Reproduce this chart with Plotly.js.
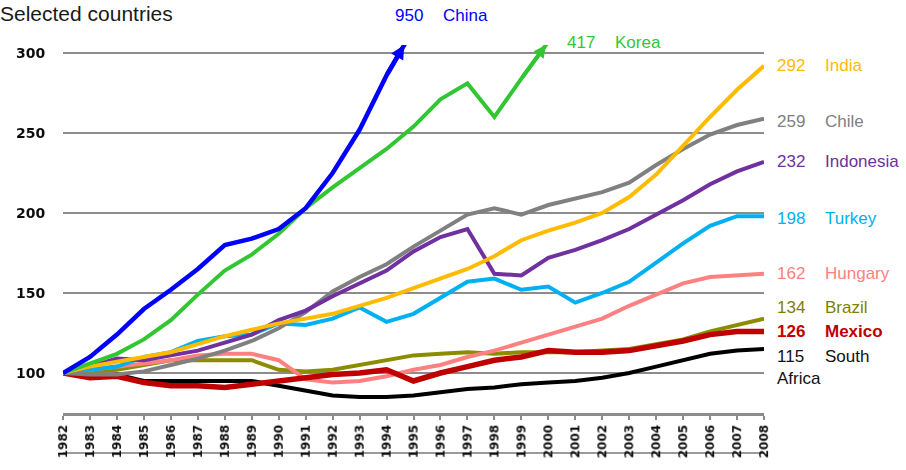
<!DOCTYPE html>
<html>
<head>
<meta charset="utf-8">
<script src="https://cdn.plot.ly/plotly-3.0.1.min.js"></script>
<style>
  html, body { margin: 0; padding: 0; background: #ffffff; }
  #chart { width: 906px; height: 470px; }
</style>
</head>
<body>
<div id="chart"></div>
<script>
// Index of real output, 1982 = 100
const years = [1982, 1983, 1984, 1985, 1986, 1987, 1988, 1989, 1990, 1991, 1992, 1993, 1994,
               1995, 1996, 1997, 1998, 1999, 2000, 2001, 2002, 2003, 2004, 2005, 2006, 2007, 2008];
const yTicks = [100, 150, 200, 250, 300];

const china       = [100, 110, 124, 140, 152, 165, 180, 184, 190, 203, 225, 252, 286, 315,
                     null, null, null, null, null, null, null, null, null, null, null, null, 950];
const korea       = [100, 106, 112, 121, 133, 149, 164, 174, 187, 203, 216, 228, 240, 254, 271, 281, 260, 284, 307,
                     null, null, null, null, null, null, null, 417];
const india       = [100, 104, 107, 110, 113, 118, 123, 127, 131, 134, 137, 142, 147, 153, 159, 165, 173, 183, 189, 194, 200, 210, 224, 242, 260, 277, 292];
const chile       = [100, 99, 99, 101, 105, 109, 114, 120, 128, 138, 151, 160, 168, 179, 189, 199, 203, 199, 205, 209, 213, 219, 230, 240, 249, 255, 259];
const indonesia   = [100, 104, 109, 108, 111, 114, 119, 124, 133, 139, 148, 156, 164, 176, 185, 190, 162, 161, 172, 177, 183, 190, 199, 208, 218, 226, 232];
const turkey      = [100, 102, 104, 110, 113, 120, 123, 124, 131, 130, 134, 141, 132, 137, 147, 157, 159, 152, 154, 144, 150, 157, 169, 181, 192, 198, 198];
const hungary     = [100, 102, 104, 106, 108, 111, 112, 112, 108, 96, 94, 95, 98, 102, 105, 110, 114, 119, 124, 129, 134, 142, 149, 156, 160, 161, 162];
const brazil      = [100, 101, 102, 105, 108, 108, 108, 108, 102, 101, 102, 105, 108, 111, 112, 113, 112, 113, 113, 113, 114, 115, 118, 121, 126, 130, 134];
const mexico      = [100, 97, 98, 94, 92, 92, 91, 93, 95, 97, 99, 100, 102, 95, 100, 104, 108, 110, 114, 113, 113, 114, 117, 120, 124, 126, 126];
const southAfrica = [100, 97, 99, 95, 95, 95, 95, 95, 92, 89, 86, 85, 85, 86, 88, 90, 91, 93, 94, 95, 97, 100, 104, 108, 112, 114, 115];

// drawing order: first drawn sits underneath
const seriesNames  = ['South Africa', 'Brazil', 'Hungary', 'Mexico', 'Turkey', 'Chile', 'Indonesia', 'India', 'Korea', 'China'];
const seriesValues = [southAfrica, brazil, hungary, mexico, turkey, chile, indonesia, india, korea, china];

const style = {
  'China':        { color: '#0000ff', width: 4.5 },
  'Korea':        { color: '#33c633', width: 4 },
  'India':        { color: '#ffbb00', width: 4 },
  'Chile':        { color: '#808080', width: 4 },
  'Indonesia':    { color: '#7030a0', width: 4 },
  'Turkey':       { color: '#00b0f0', width: 4 },
  'Hungary':      { color: '#ff8080', width: 4 },
  'Brazil':       { color: '#8c8c00', width: 4, text: '#7f7f00' },
  'Mexico':       { color: '#c00000', width: 5.5, bold: true },
  'South Africa': { color: '#000000', width: 4, text: '#111111' }
};

// label placement offsets in pixels (number box; the name follows to the right)
const labelOffset = {
  'China':        { dx: -10, dy: 30 },
  'Korea':        { dx: 20, dy: 3 },
  'India':        { dx: 12, dy: 0 },
  'Chile':        { dx: 12, dy: -3 },
  'Indonesia':    { dx: 12, dy: 0 },
  'Turkey':       { dx: 12, dy: -2 },
  'Hungary':      { dx: 12, dy: 0 },
  'Brazil':       { dx: 12, dy: 11 },
  'Mexico':       { dx: 12, dy: 0 },
  'South Africa': { dx: 12, dy: -7 }
};
const NAME_GAP = 48;
const LINE_GAP = 22;

const Y_MIN = 75, Y_MAX = 305;
const LABEL_FONT = 'Liberation Sans, Arial, sans-serif';

function lastValue(vals) {
  for (let i = vals.length - 1; i >= 0; i--) if (vals[i] != null) return vals[i];
  return null;
}

// where a series first leaves the top of the value axis
function topExit(vals) {
  for (let i = 1; i < vals.length; i++) {
    const a = vals[i - 1], b = vals[i];
    if (a != null && b != null && b > Y_MAX && a <= Y_MAX) {
      const t = (Y_MAX - a) / (b - a);
      return { x0: years[i - 1], y0: a, x: years[i - 1] + t * (years[i] - years[i - 1]) };
    }
  }
  return null;
}

const traces = seriesNames.map((name, k) => ({
  type: 'scatter',
  mode: 'lines',
  name: name,
  x: years,
  y: seriesValues[k],
  connectgaps: false,
  line: { color: style[name].color, width: style[name].width },
  hoverinfo: 'skip'
}));

const annotations = [];
seriesNames.forEach((name, k) => {
  const vals = seriesValues[k];
  const st = style[name];
  const off = labelOffset[name];
  const txtColor = st.text || st.color;
  const font = { family: LABEL_FONT, size: 17, color: txtColor, weight: st.bold ? 'bold' : 'normal' };
  const exit = topExit(vals);
  let ax, ay;
  if (exit) {
    ax = exit.x; ay = Y_MAX;
    // arrow head where the line runs off the top
    annotations.push({
      x: exit.x, y: Y_MAX, xref: 'x', yref: 'y',
      ax: exit.x0, ay: exit.y0, axref: 'x', ayref: 'y',
      text: '', showarrow: true, arrowhead: 2, arrowsize: 0.62, arrowwidth: st.width,
      arrowcolor: st.color, standoff: 0, startstandoff: 0
    });
  } else {
    ax = years[years.length - 1]; ay = lastValue(vals);
  }
  const words = name.split(' ');
  const common = { x: ax, y: ay, xref: 'x', yref: 'y', xanchor: 'left', yanchor: 'middle',
                   showarrow: false, font: font, borderpad: 0 };
  annotations.push(Object.assign({}, common, { text: String(lastValue(vals)), xshift: off.dx, yshift: off.dy }));
  annotations.push(Object.assign({}, common, { text: words[0], xshift: off.dx + NAME_GAP, yshift: off.dy }));
  if (words.length > 1) {
    annotations.push(Object.assign({}, common, { text: words.slice(1).join(' '), xshift: off.dx, yshift: off.dy - LINE_GAP }));
  }
});

const layout = {
  width: 906,
  height: 470,
  margin: { l: 63, r: 142, t: 45, b: 57, pad: 0 },
  paper_bgcolor: '#ffffff',
  plot_bgcolor: '#ffffff',
  showlegend: false,
  title: {
    text: 'Selected countries',
    x: 0, xref: 'container', xanchor: 'left',
    y: 1 - 14 / 470, yref: 'container', yanchor: 'middle',
    pad: { l: 0, t: 0, b: 0, r: 0 },
    font: { family: LABEL_FONT, size: 21, color: '#1a1a1a' }
  },
  xaxis: {
    range: [years[0], years[years.length - 1]],
    tickvals: years,
    ticktext: years.map(String),
    tickangle: -90,
    ticks: 'outside', ticklen: 4, tickwidth: 2, tickcolor: '#8c8c8c',
    showline: true, linecolor: '#8c8c8c', linewidth: 3,
    showgrid: false, zeroline: false,
    tickfont: { family: 'DejaVu Sans, sans-serif', size: 12, weight: 'bold', color: '#111111' },
    fixedrange: true
  },
  yaxis: {
    range: [Y_MIN, Y_MAX],
    tickvals: yTicks,
    ticktext: yTicks.map(String),
    showgrid: true, gridcolor: '#8c8c8c', gridwidth: 2,
    zeroline: false, showline: false,
    ticks: 'outside', ticklen: 14, tickcolor: 'rgba(0,0,0,0)',
    tickfont: { family: 'DejaVu Sans, sans-serif', size: 14, weight: 'bold', color: '#111111' },
    fixedrange: true
  },
  shapes: [{
    type: 'line', xref: 'paper', yref: 'paper', layer: 'below',
    x0: 0, x1: 1, y0: -40 / 368, y1: -40 / 368,
    line: { color: '#9a9a9a', width: 2 }
  }],
  annotations: annotations
};

Plotly.newPlot('chart', traces, layout, { staticPlot: true, displayModeBar: false }).then(gd => {
  // soften the axis numerals slightly
  const svg = gd.querySelector('svg.main-svg');
  const ns = 'http://www.w3.org/2000/svg';
  const defs = svg.querySelector('defs') || svg.insertBefore(document.createElementNS(ns, 'defs'), svg.firstChild);
  const filter = document.createElementNS(ns, 'filter');
  filter.setAttribute('id', 'tick-soft');
  filter.setAttribute('x', '-20%'); filter.setAttribute('y', '-20%');
  filter.setAttribute('width', '140%'); filter.setAttribute('height', '140%');
  const blur = document.createElementNS(ns, 'feGaussianBlur');
  blur.setAttribute('stdDeviation', '0.45');
  filter.appendChild(blur);
  defs.appendChild(filter);
  gd.querySelectorAll('.xtick text, .ytick text').forEach(t => t.setAttribute('filter', 'url(#tick-soft)'));
});
</script>
</body>
</html>
